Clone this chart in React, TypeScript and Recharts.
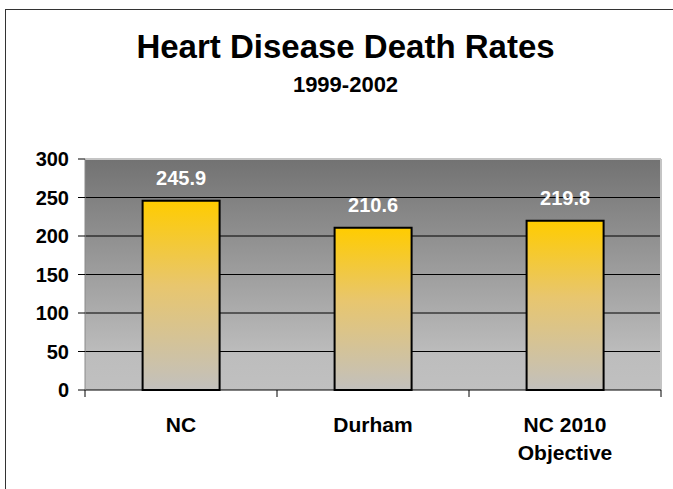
import { BarChart, Bar, XAxis, YAxis, CartesianGrid, LabelList, ReferenceLine, Text } from "recharts";

const categories = ["NC", "Durham", "NC 2010 Objective"];
const rates = [245.9, 210.6, 219.8];
const yTicks = [0, 50, 100, 150, 200, 250, 300];
const gridValues = [50, 100, 150, 200, 250];
const edgeTicks = [0, 1, 2, 3];

const data = categories.map((name, i) => ({ name, rate: rates[i], slot: i + 0.5 }));

const FONT = "'Liberation Sans', Arial, sans-serif";

function CategoryTick(props: any) {
  const { x, y, payload } = props;
  return (
    <Text
      x={x}
      y={y + 26}
      width={115}
      textAnchor="middle"
      verticalAnchor="start"
      lineHeight="1.33em"
      fill="#000"
      style={{ fontSize: 21, fontWeight: "bold", fontFamily: FONT }}
    >
      {payload.value}
    </Text>
  );
}

// edge axis only shows its tick marks
const NoLabel = () => <g />;

export default function App() {
  return (
    <div
      style={{
        position: "absolute",
        left: 0,
        top: 0,
        width: 673,
        height: 489,
        overflow: "hidden",
        background: "#fff",
        fontFamily: FONT,
      }}
    >
      <div
        style={{
          position: "absolute",
          left: 5,
          top: 9,
          width: 667,
          height: 500,
          border: "1px solid #333",
        }}
      />
      <div
        style={{
          position: "absolute",
          left: 9,
          top: 30,
          width: 673,
          textAlign: "center",
          fontSize: 33,
          lineHeight: "33px",
          fontWeight: "bold",
        }}
      >
        Heart Disease Death Rates
      </div>
      <div
        style={{
          position: "absolute",
          left: 9,
          top: 74,
          width: 673,
          textAlign: "center",
          fontSize: 22,
          lineHeight: "22px",
          fontWeight: "bold",
        }}
      >
        1999-2002
      </div>
      <div style={{ position: "absolute", left: 0, top: 0 }}>
        <BarChart
          width={673}
          height={489}
          data={data}
          margin={{ top: 159, right: 12, left: 0, bottom: 48 }}
          barCategoryGap="30%"
        >
          <defs>
            <linearGradient id="plotBg" x1="0" y1="0" x2="0" y2="1">
              <stop offset="0%" stopColor="#727272" />
              <stop offset="85%" stopColor="#bdbdbd" />
              <stop offset="100%" stopColor="#c0c0c0" />
            </linearGradient>
            <linearGradient id="barFill" x1="0" y1="0" x2="0" y2="1">
              <stop offset="0%" stopColor="#ffcc00" />
              <stop offset="45%" stopColor="#e8c66e" />
              <stop offset="100%" stopColor="#c2c0bd" />
            </linearGradient>
          </defs>
          <CartesianGrid
            xAxisId="names"
            fill="url(#plotBg)"
            vertical={false}
            horizontalValues={gridValues}
            stroke="#000"
            strokeOpacity={1}
          />
          <XAxis
            xAxisId="edges"
            dataKey="slot"
            type="number"
            domain={[0, 3]}
            ticks={edgeTicks}
            height={1}
            tick={NoLabel}
            tickSize={7}
            axisLine={{ stroke: "#000" }}
            tickLine={{ stroke: "#000" }}
          />
          <XAxis
            xAxisId="names"
            dataKey="name"
            height={50}
            axisLine={false}
            tickLine={false}
            tickSize={0}
            tickMargin={0}
            interval={0}
            tick={<CategoryTick />}
          />
          <YAxis
            width={85}
            domain={[0, 300]}
            ticks={yTicks}
            tickSize={7}
            tickMargin={9}
            axisLine={{ stroke: "#8a8a8a" }}
            tickLine={{ stroke: "#000" }}
            tick={{ fill: "#000", fontSize: 20, fontWeight: "bold", fontFamily: FONT }}
          />
          <ReferenceLine xAxisId="names" y={300} stroke="#c4c4c4" strokeWidth={2} />
          <ReferenceLine xAxisId="edges" x={3} stroke="#c4c4c4" strokeWidth={2} />
          <Bar
            xAxisId="names"
            dataKey="rate"
            fill="url(#barFill)"
            stroke="#000"
            strokeWidth={2}
            isAnimationActive={false}
          >
            <LabelList
              dataKey="rate"
              position="top"
              offset={16}
              fill="#fff"
              fontSize={20}
              fontWeight="bold"
              fontFamily={FONT}
              formatter={(v: any) => Number(v).toFixed(1)}
            />
          </Bar>
        </BarChart>
      </div>
    </div>
  );
}
